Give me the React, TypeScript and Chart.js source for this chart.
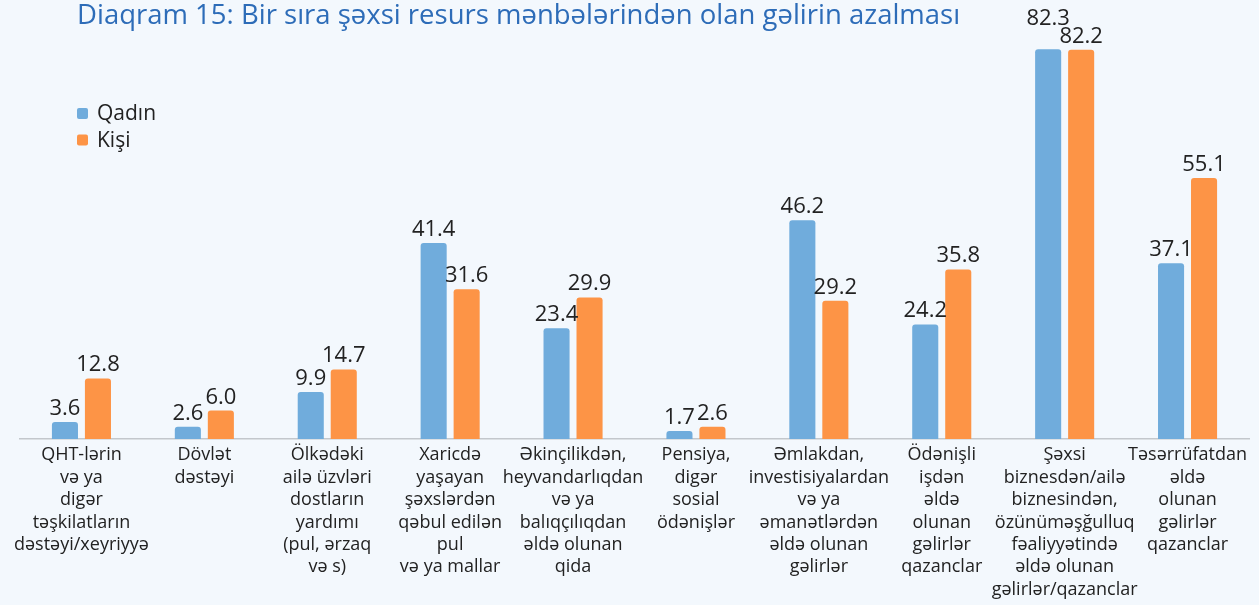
import React, { useEffect, useRef } from "react";
import { Chart, registerables } from "chart.js";

Chart.register(...registerables);

const TITLE = "Diaqram 15: Bir sıra şəxsi resurs mənbələrindən olan gəlirin azalması";

const categories: string[][] = [
  ["QHT-lərin", "və ya", "digər", "təşkilatların", "dəstəyi/xeyriyyə"],
  ["Dövlət", "dəstəyi"],
  ["Ölkədəki", "ailə üzvləri", "dostların", "yardımı", "(pul, ərzaq", "və s)"],
  ["Xaricdə", "yaşayan", "şəxslərdən", "qəbul edilən", "pul", "və ya mallar"],
  ["Əkinçilikdən,", "heyvandarlıqdan", "və ya", "balıqçılıqdan", "əldə olunan", "qida"],
  ["Pensiya,", "digər", "sosial", "ödənişlər"],
  ["Əmlakdan,", "investisiyalardan", "və ya", "əmanətlərdən", "əldə olunan", "gəlirlər"],
  ["Ödənişli", "işdən", "əldə", "olunan", "gəlirlər", "qazanclar"],
  ["Şəxsi", "biznesdən/ailə", "biznesindən,", "özünüməşğulluq", "fəaliyyətində", "əldə olunan", "gəlirlər/qazanclar"],
  ["Təsərrüfatdan", "əldə", "olunan", "gəlirlər", "qazanclar"],
];

const seriesNames = ["Qadın", "Kişi"];
const qadin = [3.6, 2.6, 9.9, 41.4, 23.4, 1.7, 46.2, 24.2, 82.3, 37.1];
const kisi = [12.8, 6.0, 14.7, 31.6, 29.9, 2.6, 29.2, 35.8, 82.2, 55.1];

const BLUE = "#70acdc";
const ORANGE = "#fd9446";
const BG = "#f3f8fd";
const FONT = "'Open Sans', 'Noto Sans', sans-serif";

const overlayPlugin = {
  id: "overlay",
  afterDatasetsDraw(chart: any) {
    const ctx = chart.ctx;
    ctx.save();
    // value labels
    ctx.font = `22px ${FONT}`;
    ctx.fillStyle = "#222222";
    ctx.textAlign = "center";
    ctx.textBaseline = "alphabetic";
    const m0 = chart.getDatasetMeta(0);
    const m1 = chart.getDatasetMeta(1);
    const d0 = chart.data.datasets[0].data as number[];
    const d1 = chart.data.datasets[1].data as number[];
    for (let i = 0; i < d0.length; i++) {
      const b0 = m0.data[i];
      const b1 = m1.data[i];
      const t0 = d0[i].toFixed(1);
      const t1 = d1[i].toFixed(1);
      let y0 = b0.y - 7;
      let y1 = b1.y - 7;
      const w0 = ctx.measureText(t0).width;
      const w1 = ctx.measureText(t1).width;
      const hOverlap = w0 / 2 + w1 / 2 > b1.x - b0.x;
      if (hOverlap && Math.abs(y0 - y1) < 18) {
        if (y0 <= y1) y0 = y1 - 18;
        else y1 = y0 - 18;
      }
      ctx.fillText(t0, b0.x, y0);
      ctx.fillText(t1, b1.x, y1);
    }
    // title
    ctx.font = `27.5px ${FONT}`;
    ctx.fillStyle = "#2d6cb8";
    ctx.textAlign = "left";
    ctx.fillText(TITLE, 77, 24);
    // legend
    const colors = [BLUE, ORANGE];
    ctx.font = `21px ${FONT}`;
    ctx.textBaseline = "middle";
    seriesNames.forEach((name, i) => {
      const cy = 113.5 + i * 26.5;
      ctx.fillStyle = colors[i];
      ctx.beginPath();
      (ctx as any).roundRect(77, cy - 5.5, 11, 11, 2);
      ctx.fill();
      ctx.fillStyle = "#222222";
      ctx.fillText(name, 97, cy + 1);
    });
    ctx.restore();
  },
};

export default function App() {
  const ref = useRef<HTMLCanvasElement>(null);
  useEffect(() => {
    document.body.style.margin = "0";
    document.body.style.background = BG;
    const chart = new Chart(ref.current!, {
      type: "bar",
      data: {
        labels: categories,
        datasets: [
          {
            label: seriesNames[0],
            data: qadin,
            backgroundColor: BLUE,
            borderRadius: 3,
            borderSkipped: "bottom",
            barPercentage: 0.79,
            categoryPercentage: 0.537,
          },
          {
            label: seriesNames[1],
            data: kisi,
            backgroundColor: ORANGE,
            borderRadius: 3,
            borderSkipped: "bottom",
            barPercentage: 0.79,
            categoryPercentage: 0.537,
          },
        ],
      },
      options: {
        animation: false,
        responsive: false,
        layout: { padding: { top: 8, left: 20, right: 10, bottom: 0 } },
        plugins: {
          legend: { display: false },
          title: { display: false },
          tooltip: { enabled: false },
        },
        scales: {
          x: {
            grid: { display: false, drawTicks: false },
            border: { display: true, color: "#c3c7cc", width: 1.5 },
            ticks: {
              color: "#222222",
              font: { family: FONT, size: 18, lineHeight: 1.245 },
              padding: 5,
              maxRotation: 0,
              autoSkip: false,
            },
            afterFit: (scale: any) => {
              scale.height = 166;
            },
          },
          y: {
            display: false,
            min: 0,
            max: 91,
          },
        },
      },
      plugins: [overlayPlugin],
    });
    return () => chart.destroy();
  }, []);
  return (
    <div style={{ width: 1259, height: 605, background: BG }}>
      <canvas ref={ref} width={1259} height={605} style={{ display: "block" }} />
    </div>
  );
}
